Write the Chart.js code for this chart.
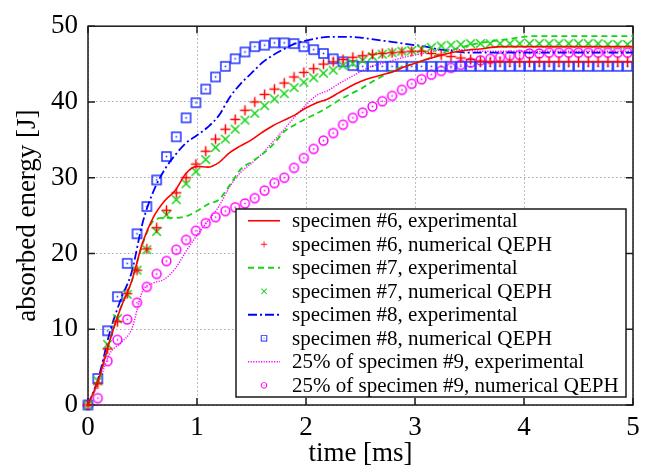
<!DOCTYPE html>
<html lang="en">
  <head>
    <meta charset="UTF-8" />
    <title>Absorbed energy</title>
    <script src="https://cdn.jsdelivr.net/npm/chart.js"></script>
    <style>
      html, body { margin: 0; padding: 0; background: #fff; }
    </style>
  </head>
  <body>
    <canvas id="chart" width="657" height="470"></canvas>

    <script>
      // experimental curves, sampled every 0.1 ms
      const tExp = [0,0.1,0.2,0.3,0.4,0.5,0.6,0.7,0.8,0.9,1.0,1.1,1.2,1.3,1.4,1.5,1.6,1.7,1.8,1.9,
        2.0,2.1,2.2,2.3,2.4,2.5,2.6,2.7,2.8,2.9,3.0,3.1,3.2,3.3,3.4,3.5,3.6,3.7,3.8,3.9,
        4.0,4.1,4.2,4.3,4.4,4.5,4.6,4.7,4.8,4.9,5.0];
      const exp6 = [0,3.5,8.5,12.8,16.3,21.4,24.8,26.9,28.3,30.6,31.5,31.4,32.0,33.3,34.2,35.0,36.0,36.9,37.6,38.3,
        39.2,39.9,40.4,41.2,42.0,42.7,43.2,43.6,44.0,44.6,45.1,45.6,46.0,46.4,46.7,46.9,47.0,47.2,47.3,47.3,
        47.3,47.3,47.3,47.3,47.3,47.3,47.3,47.3,47.3,47.3,47.3];
      const exp7 = [0,3.3,8.6,12.8,16.3,21.2,24.3,24.7,24.7,24.9,25.6,26.5,27.1,29.0,31.1,32.1,33.1,34.4,36.1,37.0,
        37.8,38.5,39.3,40.2,41.0,41.7,42.6,43.4,44.2,44.7,45.1,45.6,46.2,46.7,47.1,47.5,47.8,48.0,48.2,48.4,
        48.6,48.7,48.7,48.7,48.7,48.7,48.7,48.7,48.7,48.7,48.7];
      const exp8 = [0,3.8,9.6,13.9,17.5,24.0,28.2,31.0,33.0,34.6,35.6,36.7,38.2,40.6,42.4,43.8,45.2,46.2,47.0,47.7,
        48.1,48.4,48.6,48.6,48.6,48.5,48.3,48.1,47.9,47.7,47.5,47.3,47.0,46.8,46.6,46.5,46.5,46.5,46.5,46.5,
        46.5,46.5,46.5,46.5,46.5,46.5,46.5,46.5,46.5,46.5,46.5];
      const exp9 = [0,3.0,6.8,8.2,10.0,15.0,16.1,16.6,18.0,20.3,22.4,24.3,26.2,28.8,30.7,31.9,33.2,34.8,36.4,38.1,
        39.6,40.9,41.5,42.4,43.2,44.0,44.7,45.1,45.5,45.9,46.2,46.5,46.8,46.9,46.9,46.8,46.7,46.7,46.7,46.7,
        46.7,46.7,46.7,46.7,46.7,46.7,46.7,46.7,46.7,46.7,46.7];

      // numerical QEPH results
      const tNum = [0,0.09,0.18,0.27,0.36,0.45,0.54,0.63,0.72,0.81,0.9,0.99,1.08,1.17,1.26,1.35,1.44,1.53,1.62,1.71,
        1.8,1.89,1.98,2.07,2.16,2.25,2.34,2.43,2.52,2.61,2.7,2.79,2.88,2.97,3.06,3.15,3.24,3.33,3.42,3.51,
        3.6,3.69,3.78,3.87,3.96,4.05,4.14,4.23,4.32,4.41,4.5,4.59,4.68,4.77,4.86,4.95];
      const num6 = [0,2.8,7.4,11.0,14.7,17.8,20.6,23.4,25.7,28.0,30.0,31.8,33.5,35.1,36.4,37.7,38.9,40.0,41.0,41.7,
        42.5,43.3,43.9,44.4,45.0,45.3,45.6,45.9,46.1,46.3,46.4,46.5,46.6,46.7,46.7,46.4,46.2,46.0,45.8,45.6,
        45.4,45.3,45.3,45.3,45.3,45.3,45.3,45.3,45.3,45.3,45.3,45.3,45.3,45.3,45.3,45.3];
      const num7 = [0,3.2,8.0,11.4,14.6,17.8,20.5,22.9,25.1,27.1,29.2,30.8,32.4,34.0,35.1,36.4,37.6,38.5,39.5,40.4,
        41.1,41.9,42.6,43.2,43.8,44.2,44.8,45.1,45.5,46.0,46.3,46.5,46.7,46.8,47.0,47.2,47.4,47.5,47.6,47.7,
        47.7,47.7,47.7,47.7,47.7,47.7,47.7,47.7,47.7,47.7,47.7,47.7,47.7,47.6,47.6,47.6];
      const num8 = [0,3.5,9.8,14.3,18.7,22.6,26.2,29.7,32.8,35.4,37.9,39.9,41.7,43.3,44.7,45.7,46.6,47.3,47.5,47.8,
        47.8,47.7,47.3,46.9,46.4,45.7,45.3,44.8,44.7,44.7,44.7,44.7,44.7,44.7,44.7,44.7,44.7,44.7,44.7,44.7,
        44.7,44.7,44.7,44.7,44.7,44.7,44.7,44.7,44.7,44.7,44.7,44.7,44.7,44.7,44.7,44.7];
      const num9 = [0,0.9,5.8,8.6,11.3,13.5,15.6,17.3,19.0,20.5,21.8,23.0,24.0,24.8,25.6,26.1,26.6,27.3,28.3,29.3,
        30.0,31.3,32.6,33.8,34.9,35.9,37.0,37.9,38.6,39.4,40.1,40.8,41.6,42.4,43.0,43.6,44.1,44.5,44.9,45.2,
        45.5,45.7,45.9,46.1,46.2,46.4,46.4,46.5,46.5,46.5,46.5,46.5,46.5,46.5,46.5,46.5];

      const xTicks = [0, 1, 2, 3, 4, 5];
      const yTicks = [0, 10, 20, 30, 40, 50];
      const names = [
        "specimen #6, experimental",
        "specimen #6, numerical QEPH",
        "specimen #7, experimental",
        "specimen #7, numerical QEPH",
        "specimen #8, experimental",
        "specimen #8, numerical QEPH",
        "25% of specimen #9, experimental",
        "25% of specimen #9, numerical QEPH",
      ];

      const SERIF = "'Liberation Serif', 'DejaVu Serif', serif";
      const RED = "#ff0000", GREEN = "#14d414", BLUE = "#0000ff", MAG = "#ff00ff";

      // gnuplot-like point symbols
      function marker(draw) {
        const c = document.createElement("canvas");
        c.width = 13; c.height = 13;
        const g = c.getContext("2d");
        g.translate(6.5, 6.5);
        g.lineWidth = 1.5;
        draw(g);
        return c;
      }
      const mPlus = marker(g => {
        g.strokeStyle = RED; g.beginPath();
        g.moveTo(-5, 0); g.lineTo(5, 0); g.moveTo(0, -5); g.lineTo(0, 5); g.stroke();
      });
      const mCross = marker(g => {
        g.strokeStyle = GREEN; g.beginPath();
        g.moveTo(-4.3, -4.3); g.lineTo(4.3, 4.3); g.moveTo(4.3, -4.3); g.lineTo(-4.3, 4.3); g.stroke();
      });
      const mSquare = marker(g => {
        g.strokeStyle = "#2030ff"; g.fillStyle = "#2030ff";
        g.strokeRect(-4.5, -4.5, 9, 9); g.fillRect(-0.8, -0.8, 1.6, 1.6);
      });
      const mCircle = marker(g => {
        g.strokeStyle = MAG; g.fillStyle = MAG;
        g.beginPath(); g.arc(0, 0, 4.4, 0, Math.PI * 2); g.stroke();
        g.fillRect(-0.8, -0.8, 1.6, 1.6);
      });

      const pts = (xs, ys) => xs.map((x, i) => ({ x: x, y: ys[i] }));

      const lineSet = (label, xs, ys, color, dash, width) => ({
        label, data: pts(xs, ys), showLine: true, borderColor: color, borderWidth: width,
        borderDash: dash, pointRadius: 0, pointHoverRadius: 0, fill: false,
        cubicInterpolationMode: "monotone", clip: false,
      });
      const pointSet = (label, xs, ys, img) => ({
        label, data: pts(xs, ys), showLine: false, pointStyle: img,
        pointRadius: 5, borderColor: "transparent", clip: false,
      });

      const datasets = [
        lineSet(names[0], tExp, exp6, RED, [], 1.6),
        pointSet(names[1], tNum, num6, mPlus),
        lineSet(names[2], tExp, exp7, GREEN, [6, 4], 1.8),
        pointSet(names[3], tNum, num7, mCross),
        lineSet(names[4], tExp, exp8, BLUE, [9, 3, 2, 3], 1.8),
        pointSet(names[5], tNum, num8, mSquare),
        lineSet(names[6], tExp, exp9, MAG, [1.2, 1.4], 1.4),
        pointSet(names[7], tNum, num9, mCircle),
      ];

      // frame with inward ticks on all four sides
      const frame = {
        id: "frame",
        beforeDatasetsDraw(chart) {
          const { ctx, chartArea: a, scales } = chart;
          ctx.save();
          ctx.strokeStyle = "#1a1a1a";
          ctx.lineWidth = 1.5;
          ctx.beginPath();
          xTicks.forEach(v => {
            const px = scales.x.getPixelForValue(v);
            ctx.moveTo(px, a.bottom); ctx.lineTo(px, a.bottom - 7);
            ctx.moveTo(px, a.top); ctx.lineTo(px, a.top + 7);
          });
          yTicks.forEach(v => {
            const py = scales.y.getPixelForValue(v);
            ctx.moveTo(a.left, py); ctx.lineTo(a.left + 7, py);
            ctx.moveTo(a.right, py); ctx.lineTo(a.right - 7, py);
          });
          ctx.stroke();
          ctx.strokeRect(a.left, a.top, a.right - a.left, a.bottom - a.top);
          ctx.restore();
        },
      };

      // boxed key in the lower right corner
      const keyBox = {
        id: "keyBox",
        afterDraw(chart) {
          const ctx = chart.ctx;
          const box = { l: 236, t: 209, r: 626, b: 397 };
          const row = (box.b - box.t) / names.length;
          ctx.save();
          ctx.fillStyle = "#fff";
          ctx.fillRect(box.l, box.t, box.r - box.l, box.b - box.t);
          ctx.strokeStyle = "#1a1a1a";
          ctx.lineWidth = 1.5;
          ctx.strokeRect(box.l, box.t, box.r - box.l, box.b - box.t);
          ctx.font = "21px " + SERIF;
          ctx.textBaseline = "middle";
          chart.data.datasets.forEach((ds, i) => {
            const y = box.t + row * (i + 0.5);
            if (ds.showLine === false) {
              ctx.drawImage(ds.pointStyle, 264 - 4, y - 4, 8, 8);
            } else {
              ctx.strokeStyle = ds.borderColor;
              ctx.lineWidth = ds.borderWidth;
              ctx.setLineDash(ds.borderDash);
              ctx.beginPath();
              ctx.moveTo(248, y); ctx.lineTo(280, y);
              ctx.stroke();
              ctx.setLineDash([]);
            }
            ctx.fillStyle = "#000";
            ctx.fillText(ds.label, 292, y + 1);
          });
          ctx.restore();
        },
      };

      new Chart(document.getElementById("chart"), {
        type: "scatter",
        data: { datasets },
        plugins: [frame, keyBox],
        options: {
          responsive: false,
          animation: false,
          devicePixelRatio: 1,
          layout: { padding: { left: 0, top: 18, right: 24, bottom: 0 } },
          plugins: { legend: { display: false }, tooltip: { enabled: false } },
          scales: {
            x: {
              type: "linear", min: 0, max: 5,
              afterBuildTicks: s => { s.ticks = xTicks.map(v => ({ value: v })); },
              afterFit: s => { s.height = 65; },
              grid: { color: "#a8a8a8", lineWidth: 1, drawTicks: false },
              border: { display: false, dash: [1.5, 2.5] },
              ticks: { color: "#000", padding: 7, font: { family: SERIF, size: 27 } },
              title: {
                display: true, text: "time [ms]", color: "#000",
                padding: { top: 0, bottom: 0 }, font: { family: SERIF, size: 27 },
              },
            },
            y: {
              type: "linear", min: 0, max: 50,
              afterBuildTicks: s => { s.ticks = yTicks.map(v => ({ value: v })); },
              afterFit: s => { s.width = 88; },
              grid: { color: "#a8a8a8", lineWidth: 1, drawTicks: false },
              border: { display: false, dash: [1.5, 2.5] },
              ticks: { color: "#000", padding: 10, font: { family: SERIF, size: 27 } },
              title: {
                display: true, text: "absorbed energy [J]", color: "#000",
                padding: { top: 12, bottom: 0 }, font: { family: SERIF, size: 27 },
              },
            },
          },
        },
      });
    </script>
  </body>
</html>
